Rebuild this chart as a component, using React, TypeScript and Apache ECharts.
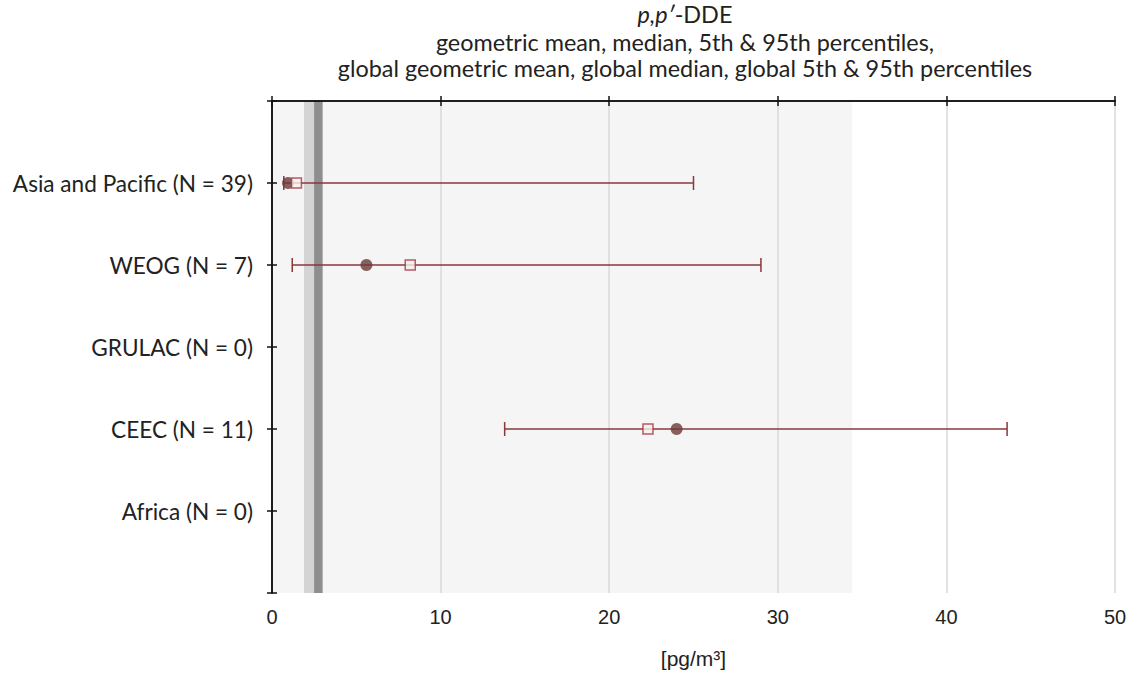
import React, { useEffect, useRef } from "react";
import * as echarts from "echarts";

const categories = [
  "Asia and Pacific (N = 39)",
  "WEOG (N = 7)",
  "GRULAC (N = 0)",
  "CEEC (N = 11)",
  "Africa (N = 0)",
];
// row index (1-based, top to bottom) for each region with data
const rowIndex = [1, 2, 4];
const geoMean = [0.95, 5.6, 24.0];
const median = [1.45, 8.2, 22.3];
const p5 = [0.7, 1.2, 13.8];
const p95 = [25.0, 29.0, 43.6];

const globalP5 = 0;
const globalP95 = 34.4;
const globalMedianRange = [1.9, 3.0];
const globalGeoMeanRange = [2.5, 3.0];

const xTicks = [0, 10, 20, 30, 40, 50];

const FONT_T = "Lato, 'Open Sans', sans-serif";
const FONT_X = "'Liberation Sans', Arial, sans-serif";

export default function App() {
  const ref = useRef<HTMLDivElement>(null);
  useEffect(() => {
    if (!ref.current) return;
    const chart = echarts.init(ref.current, null, { renderer: "svg" });
    const errData = rowIndex.map((r, i) => [p5[i], p95[i], r]);
    const titleStyle = { fontFamily: FONT_T, fontSize: 23.4, fill: "#222" };
    const option: any = {
      animation: false,
      backgroundColor: "#ffffff",
      graphic: [
        {
          type: "text",
          x: 685,
          y: 14,
          style: {
            text: "{i|p,p′}{n|-DDE}",
            textAlign: "center",
            textVerticalAlign: "middle",
            verticalAlign: "middle",
            rich: {
              i: { fontFamily: FONT_T, fontSize: 23.4, fontStyle: "italic", fill: "#222" },
              n: { fontFamily: FONT_T, fontSize: 23.4, fill: "#222" },
            },
          },
        },
        {
          type: "text",
          x: 685,
          y: 42,
          style: {
            ...titleStyle,
            text: "geometric mean, median, 5th & 95th percentiles,",
            textAlign: "center",
            textVerticalAlign: "middle",
            verticalAlign: "middle",
          },
        },
        {
          type: "text",
          x: 685,
          y: 68,
          style: {
            ...titleStyle,
            text: "global geometric mean, global median, global 5th & 95th percentiles",
            textAlign: "center",
            textVerticalAlign: "middle",
            verticalAlign: "middle",
          },
        },
      ],
      grid: { left: 272, right: 20, top: 101, bottom: 84, show: false },
      xAxis: [
        {
          type: "value",
          z: 20,
          min: xTicks[0],
          max: xTicks[xTicks.length - 1],
          interval: 10,
          position: "bottom",
          axisLine: { show: true, lineStyle: { color: "#111", width: 1.5 } },
          axisTick: { show: true, inside: true, length: 5, lineStyle: { color: "#111", width: 1.5 } },
          axisLabel: { fontFamily: FONT_X, fontSize: 20, color: "#222", margin: 14 },
          splitLine: { show: true, lineStyle: { color: "#d9d9d9", width: 1.5 } },
          name: "[pg/m³]",
          nameLocation: "middle",
          nameGap: 55,
          nameTextStyle: { fontFamily: FONT_X, fontSize: 21, color: "#222" },
        },
        {
          type: "value",
          z: 20,
          min: xTicks[0],
          max: xTicks[xTicks.length - 1],
          interval: 10,
          position: "top",
          axisLine: { show: true, lineStyle: { color: "#111", width: 1.5 } },
          axisTick: { show: true, inside: true, length: 5, lineStyle: { color: "#111", width: 1.5 } },
          axisLabel: { show: false },
          splitLine: { show: false },
        },
      ],
      yAxis: [
        {
          type: "value",
          z: 20,
          min: 0,
          max: 6,
          interval: 1,
          inverse: true,
          position: "left",
          axisLine: { show: true, lineStyle: { color: "#111", width: 1.5 } },
          axisTick: { show: true, inside: true, length: 5, lineStyle: { color: "#111", width: 1.5 } },
          axisLabel: {
            fontFamily: FONT_T,
            fontSize: 22.6,
            color: "#222",
            margin: 19,
            formatter: (v: number) => categories[v - 1] || "",
          },
          splitLine: { show: false },
        },
        {
          type: "value",
          z: 20,
          min: 0,
          max: 6,
          interval: 1,
          inverse: true,
          position: "right",
          axisLine: { show: true, lineStyle: { color: "#111", width: 1.5 } },
          axisTick: { show: true, inside: true, length: 5, lineStyle: { color: "#111", width: 1.5 } },
          axisLabel: { show: false },
          splitLine: { show: false },
        },
      ],
      series: [
        {
          type: "line",
          data: [],
          z: 1,
          silent: true,
          markArea: {
            silent: true,
            data: [
              [{ xAxis: globalP5, itemStyle: { color: "#f5f5f5" } }, { xAxis: globalP95 }],
              [{ xAxis: globalMedianRange[0], itemStyle: { color: "#d4d4d4" } }, { xAxis: globalMedianRange[1] }],
              [{ xAxis: globalGeoMeanRange[0], itemStyle: { color: "#8e8e8e" } }, { xAxis: globalGeoMeanRange[1] }],
            ],
          },
        },
        {
          type: "custom",
          data: errData,
          encode: { x: [0, 1], y: 2 },
          z: 30,
          renderItem: (params: any, api: any) => {
            const lo = api.coord([api.value(0), api.value(2)]);
            const hi = api.coord([api.value(1), api.value(2)]);
            const h = 7;
            const style = { stroke: "#8a3838", lineWidth: 1.5 };
            return {
              type: "group",
              children: [
                { type: "line", shape: { x1: lo[0], y1: lo[1], x2: hi[0], y2: hi[1] }, style },
                { type: "line", shape: { x1: lo[0], y1: lo[1] - h, x2: lo[0], y2: lo[1] + h }, style },
                { type: "line", shape: { x1: hi[0], y1: hi[1] - h, x2: hi[0], y2: hi[1] + h }, style },
              ],
            };
          },
        },
        {
          type: "scatter",
          data: rowIndex.map((r, i) => [geoMean[i], r]),
          symbol: "circle",
          symbolSize: 12,
          itemStyle: { color: "#6a3a3a" },
          z: 31,
        },
        {
          type: "scatter",
          data: rowIndex.map((r, i) => [median[i], r]),
          symbol: "rect",
          symbolSize: 10,
          itemStyle: { color: "#f4f0f0", borderColor: "#a8343c", borderWidth: 1.5 },
          z: 32,
        },
      ],
    };
    chart.setOption(option);
    return () => chart.dispose();
  }, []);
  return (
    <div
      ref={ref}
      style={{ position: "fixed", left: 0, top: 0, width: 1135, height: 677 }}
    />
  );
}
